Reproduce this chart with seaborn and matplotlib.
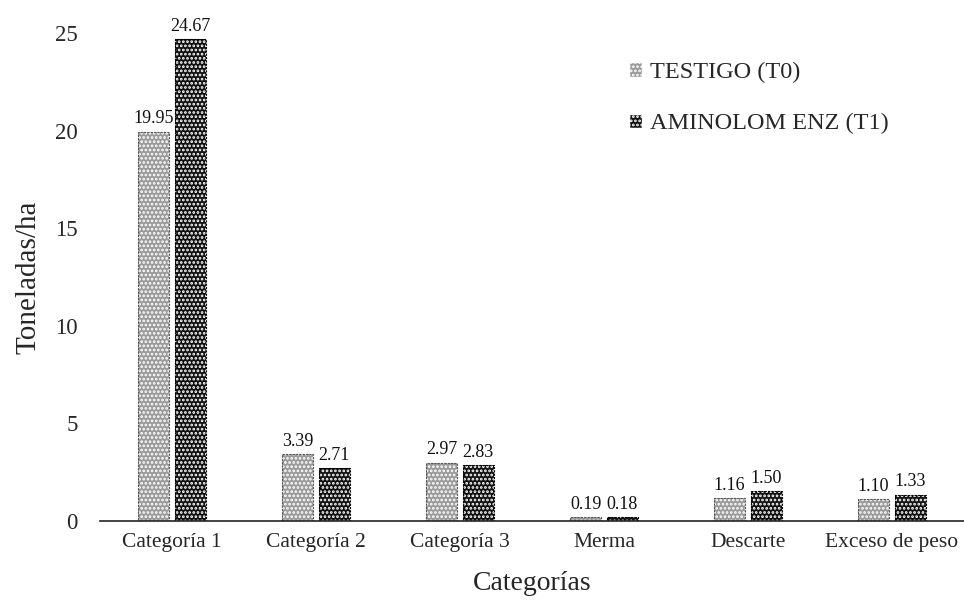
import matplotlib
matplotlib.use("Agg")
import matplotlib.pyplot as plt
from matplotlib.patches import Patch
import seaborn as sns
import pandas as pd

categorias = ["Categoría 1", "Categoría 2", "Categoría 3", "Merma", "Descarte", "Exceso de peso"]
testigo = [19.95, 3.39, 2.97, 0.19, 1.16, 1.10]
aminolom = [24.67, 2.71, 2.83, 0.18, 1.50, 1.33]
series = ["TESTIGO (T0)", "AMINOLOM ENZ (T1)"]
y_ticks = [0, 5, 10, 15, 20, 25]

df = pd.DataFrame({
    "Categorías": categorias * 2,
    "Toneladas/ha": testigo + aminolom,
    "Tratamiento": [series[0]] * len(categorias) + [series[1]] * len(categorias),
})

sns.set_style("white")
plt.rcParams["font.family"] = ["Liberation Serif", "DejaVu Serif"]
plt.rcParams["hatch.linewidth"] = 1.3

colors = {series[0]: "#9a9a9a", series[1]: "#111111"}
fig = plt.figure(figsize=(9.64, 6.06), dpi=100)
ax = fig.add_axes([0.1037, 0.141, 0.8963, 0.8045])

sns.barplot(data=df, x="Categorías", y="Toneladas/ha", hue="Tratamiento",
            palette=colors, width=0.51, gap=0.14, ax=ax, legend=False,
            edgecolor="white", linewidth=0)

# dotted fill on each bar plus a thin dark outline
for container, name in zip(ax.containers, series):
    outline = "#555555" if name == series[0] else "#000000"
    for bar in container:
        bar.set_hatch("....")
        bar.set_edgecolor("white")
        bar.set_linewidth(0)
        ax.add_patch(plt.Rectangle(bar.get_xy(), bar.get_width(), bar.get_height(),
                                   fill=False, edgecolor=outline, linewidth=0.8,
                                   linestyle=(0, (2, 1)), zorder=bar.get_zorder() + 0.1))
    ax.bar_label(container, labels=[f"{v:.2f}" for v in container.datavalues],
                 padding=3, fontsize=13, color="#111111")

ax.set_xlim(-0.5, len(categorias) - 0.5)
ax.set_ylim(0, 25)
ax.set_yticks(y_ticks)
ax.tick_params(axis="y", length=0, pad=16, labelsize=16.5)
ax.tick_params(axis="x", length=0, pad=9, labelsize=15.5)
ax.set_xlabel("Categorías", fontsize=20, labelpad=14)
ax.set_ylabel("Toneladas/ha", fontsize=21, labelpad=10)

for side in ["top", "right", "left"]:
    ax.spines[side].set_visible(False)
ax.spines["bottom"].set_color("#222222")
ax.spines["bottom"].set_linewidth(1.2)

handles = [Patch(facecolor=colors[s], edgecolor="white", hatch="....", label=s) for s in series]
ax.legend(handles=handles, loc="upper left", bbox_to_anchor=(0.652, 0.898),
          bbox_transform=fig.transFigure, frameon=False, borderaxespad=0, borderpad=0,
          fontsize=17.5, handlelength=0.55, handleheight=0.55, handletextpad=0.35,
          labelspacing=1.25)

fig.savefig("out.png", dpi=100)
